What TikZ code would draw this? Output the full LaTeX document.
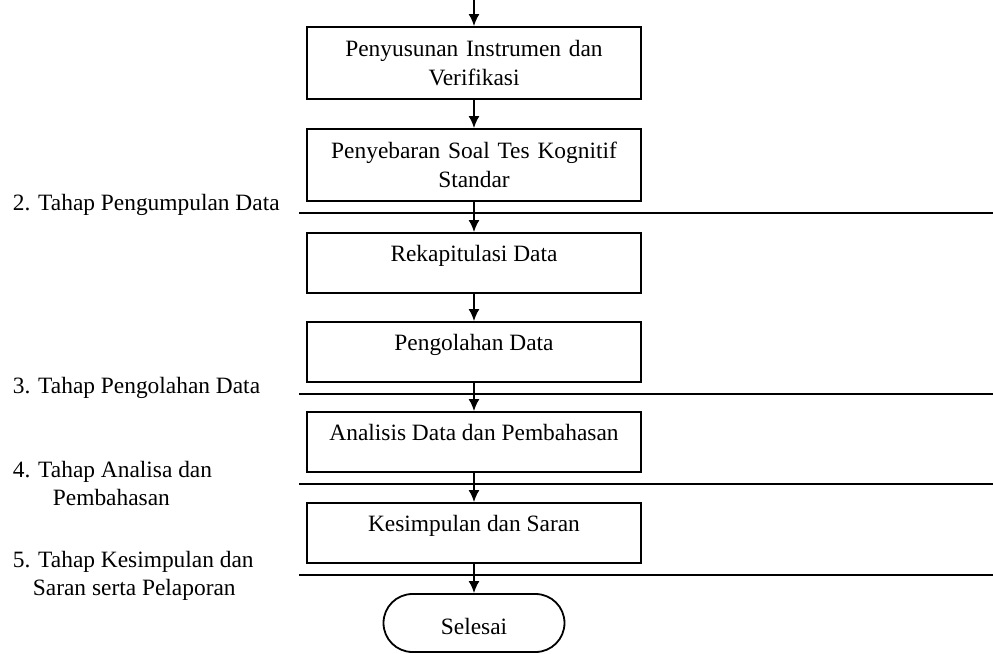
\documentclass[tikz,border=0pt]{standalone}
\usepackage{fontspec}
\setmainfont{Liberation Serif}
\usepackage{tikz}
\usetikzlibrary{arrows.meta}
\tikzset{every picture/.style={>={Latex[length=6pt,width=5.5pt]},line width=0.9pt}}
\tikzset{sepline/.style={line width=0.9pt}}
\tikzset{stepbox/.style={draw,rectangle,inner sep=0pt,minimum width=167pt,text height=14pt,text depth=16pt}}
\tikzset{twobox/.style={draw,rectangle,inner ysep=0pt,inner xsep=3.5pt,text width=160pt,align=center,minimum height=36pt}}
\tikzset{endbox/.style={draw,rectangle,rounded corners=14.5pt,minimum width=90.5pt,minimum height=29pt,inner sep=0pt,text height=11pt,text depth=-1pt}}
\tikzset{stage/.style={anchor=base west,inner sep=0pt}}

\begin{document}
\begin{tikzpicture}[x=0.5pt,y=-0.5pt,font=\fontsize{11.7}{14.5}\selectfont]
      \useasboundingbox (0,0) rectangle (993,654);
      % phase separators
      \foreach \y in {213,394,484,575}
        \draw [sepline] (299,\y) -- (993,\y);
      % stage labels
      \node [stage] (lab2) at (12,210) {2. Tahap Pengumpulan Data};
      \node [stage] (lab3) at (12,393) {3. Tahap Pengolahan Data};
      \node [stage] (lab4a) at (12,477) {4. Tahap Analisa dan};
      \node [stage] (lab4b) at (52,505) {Pembahasan};
      \node [stage] (lab5a) at (12,567) {5. Tahap Kesimpulan dan};
      \node [stage] (lab5b) at (32,595) {Saran serta Pelaporan};
      % flow
      \coordinate (top) at (474,0);
      \node [twobox] (instr) at (474,63) {Penyusunan Instrumen dan\\Verifikasi};
      \node [twobox] (sebar) at (474,165) {Penyebaran Soal Tes Kognitif\\Standar};
      \node [stepbox] (rekap) at (474,263) {Rekapitulasi Data};
      \node [stepbox] (olah) at (474,352) {Pengolahan Data};
      \node [stepbox] (analisis) at (474,442) {Analisis Data dan Pembahasan};
      \node [stepbox] (simpul) at (474,533) {Kesimpulan dan Saran};
      \node [endbox] (selesai) at (474,623) {Selesai};
      \draw[->] (top) -- (instr);
      \draw[->] (instr) -- (sebar);
      \draw[->] (sebar) -- (rekap);
      \draw[->] (rekap) -- (olah);
      \draw[->] (olah) -- (analisis);
      \draw[->] (analisis) -- (simpul);
      \draw[->] (simpul) -- (selesai);
    \end{tikzpicture}
\end{document}
